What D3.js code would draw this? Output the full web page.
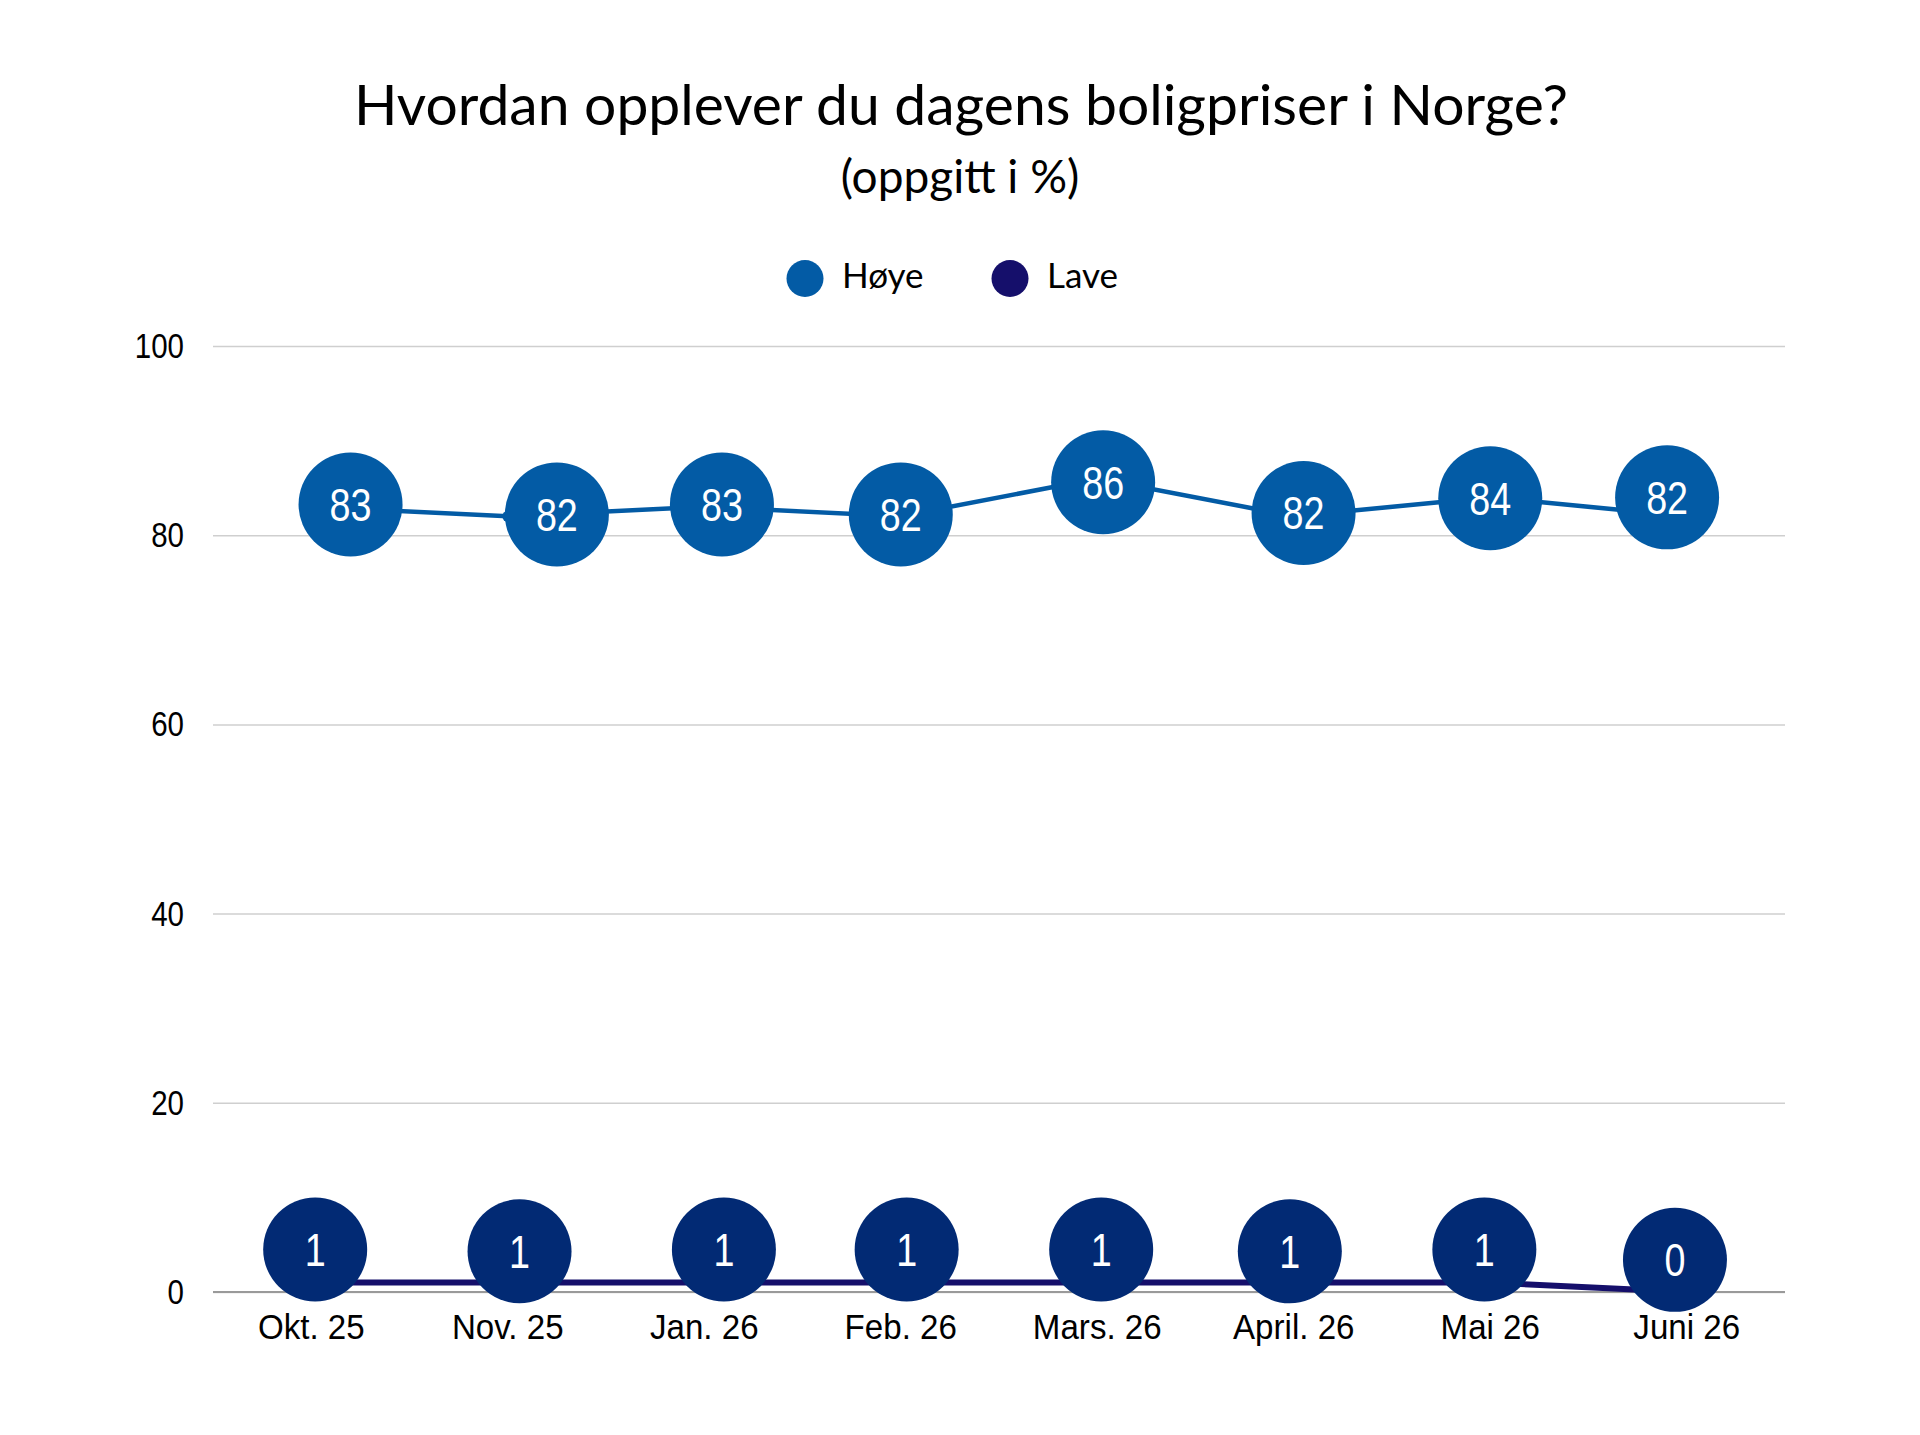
<!DOCTYPE html>
<html>
<head>
<meta charset="utf-8">
<script src="https://d3js.org/d3.v7.min.js"></script>
<style>
  body { margin: 0; background: #fff; }
  svg text { fill: #000; }
</style>
</head>
<body>
<script>
// values
var categories = ["Okt. 25", "Nov. 25", "Jan. 26", "Feb. 26", "Mars. 26", "April. 26", "Mai 26", "Juni 26"];
var hoye = [83, 82, 83, 82, 86, 82, 84, 82];
var lave = [1, 1, 1, 1, 1, 1, 1, 0];
var yTicks = [0, 20, 40, 60, 80, 100];
// where the value bubbles sit next to their point (share of a category step, percentage points)
var hoyeShiftX = [0.20, 0.25, 0.09, 0.0, 0.03, 0.05, 0.0, -0.10];
var hoyeShiftY = [0.25, 0.2, 0.25, 0.2, -0.4, 0.35, -0.1, 2.0];
var laveShiftX = [0.02, 0.06, 0.10, 0.03, 0.02, -0.02, -0.03, -0.06];
var laveShiftY = [3.5, 3.3, 3.5, 3.5, 3.5, 3.3, 3.5, 3.4];

var W = 1920, H = 1435;
var m = {left: 213, right: 1785, top: 346, bottom: 1292};
var narrow = 0.82; // squeeze Liberation Sans to a narrow face

var svg = d3.select("body").append("svg")
    .attr("width", W)
    .attr("height", H);

var x = d3.scaleBand().domain(categories).range([m.left, m.right]).padding(0);
var cx = function(c) { return x(c) + x.bandwidth() / 2; };
var y = d3.scaleLinear().domain([0, 100]).range([m.bottom, m.top]);

// title
svg.append("text")
    .attr("x", 961).attr("y", 125)
    .attr("text-anchor", "middle")
    .style("font-family", "Lato")
    .style("font-size", "57px")
    .style("letter-spacing", "0px")
    .text("Hvordan opplever du dagens boligpriser i Norge?");
svg.append("text")
    .attr("x", 960).attr("y", 193)
    .attr("text-anchor", "middle")
    .style("font-family", "Lato")
    .style("font-size", "46px")
    .text("(oppgitt i %)");

// legend
var legend = [{name: "Høye", color: "#035ba5", cx: 805}, {name: "Lave", color: "#150f6b", cx: 1010}];
var lg = svg.append("g").selectAll("g").data(legend).enter().append("g");
lg.append("circle").attr("cx", d => d.cx).attr("cy", 278.5).attr("r", 18.5).attr("fill", d => d.color);
lg.append("text").attr("x", d => d.cx + 37).attr("y", 288)
    .style("font-family", "Lato").style("font-size", "35px")
    .text(d => d.name);

// y axis with gridlines
var yAxis = svg.append("g")
    .attr("transform", "translate(" + m.left + ",0)")
    .call(d3.axisLeft(y).tickValues(yTicks).tickSize(-(m.right - m.left)).tickPadding(29));
yAxis.select(".domain").remove();
yAxis.selectAll("line").attr("stroke", "#cfcfcf").attr("stroke-width", 1.5);
yAxis.selectAll("text")
    .attr("x", -29 / narrow)
    .attr("transform", "scale(" + narrow + ",1)")
    .style("font-family", "'Liberation Sans'")
    .style("font-size", "36px")
    .attr("fill", "#000");

// baseline
svg.append("line")
    .attr("x1", m.left).attr("x2", m.right)
    .attr("y1", y(0)).attr("y2", y(0))
    .attr("stroke", "#9a9a9a").attr("stroke-width", 2);

// x axis labels
var xAxis = svg.append("g")
    .attr("transform", "translate(0," + m.bottom + ")")
    .call(d3.axisBottom(x).tickSize(0));
xAxis.select(".domain").remove();
xAxis.selectAll("text")
    .attr("y", 47).attr("dy", 0)
    .attr("transform", "scale(0.92,1)")
    .style("font-family", "'Liberation Sans'")
    .style("font-size", "36px")
    .attr("fill", "#000");

var series = [
  {values: hoye, line: "#035ba5", bubble: "#035ba5", width: 4.5, sx: hoyeShiftX, sy: hoyeShiftY},
  {values: lave, line: "#150f6b", bubble: "#022a74", width: 6, sx: laveShiftX, sy: laveShiftY}
];

var line = d3.line()
    .x(function(d, i) { return cx(categories[i]); })
    .y(function(d) { return y(d); });

series.forEach(function(s) {
  var g = svg.append("g");
  g.append("path")
    .attr("d", line(s.values))
    .attr("fill", "none")
    .attr("stroke", s.line)
    .attr("stroke-width", s.width);
  g.selectAll("circle.pt").data(s.values).enter().append("circle")
    .attr("class", "pt")
    .attr("cx", (d, i) => cx(categories[i]))
    .attr("cy", d => y(d))
    .attr("r", 5.5)
    .attr("fill", s.line);

  var lab = g.selectAll("g.lab").data(s.values).enter().append("g")
    .attr("class", "lab")
    .attr("transform", function(d, i) {
      var bx = cx(categories[i]) + s.sx[i] * x.step();
      var by = y(d + s.sy[i]);
      return "translate(" + bx + "," + by + ")";
    });
  lab.append("circle").attr("r", 52).attr("fill", s.bubble);
  lab.append("text")
    .attr("text-anchor", "middle")
    .attr("y", 16.5)
    .attr("transform", "scale(" + narrow + ",1)")
    .style("font-family", "'Liberation Sans'")
    .style("font-size", "46px")
    .style("fill", "#fff")
    .text(d => d);
});
</script>
</body>
</html>
